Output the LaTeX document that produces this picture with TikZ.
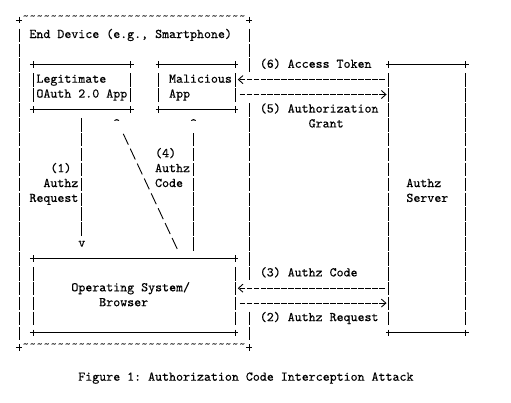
\documentclass[tikz,border=0pt]{standalone}
\usepackage{fontspec}
\newfontfamily\asciifont{lmmono10-regular.otf}[FakeBold=0.3]
\newfontfamily\tildefont{lmmono10-regular.otf}
\usetikzlibrary{arrows.meta}
\newcommand\gtext[4]{\node[glyph] (#1) at ({#2-0.5},{#3+0.21}) {#4};}
\newcommand\asciibox[5]{%
  \node[boxnode, minimum width={(#4-#2)*6.98pt}, minimum height={(#5-#3)*14.9pt}] (#1) at ({(#2+#4)/2},{(#3+#5)/2}) {};
  \draw[edge] ([xshift=-3pt]#1.north west) -- ([xshift=3pt]#1.north east);
  \draw[edge] ([xshift=-3pt]#1.south west) -- ([xshift=3pt]#1.south east);
  \foreach \a in {north west, north east, south west, south east}
    {\draw[edge] ([yshift=3.3pt]#1.\a) -- ([yshift=-3.3pt]#1.\a);}
  \draw[vbar] ([yshift=-8.64pt]#1.north west) -- ([yshift=7.75pt]#1.south west);
  \draw[vbar] ([yshift=-8.64pt]#1.north east) -- ([yshift=7.75pt]#1.south east);
}
\newcommand\tildesrow{\textasciitilde\textasciitilde\textasciitilde\textasciitilde\textasciitilde\textasciitilde\textasciitilde\textasciitilde}
\begin{document}
\begin{tikzpicture}[x=6.98pt, y=-14.9pt,
  glyph/.style={inner sep=0pt, outer sep=0pt, anchor=base west, font=\fontsize{13.3}{14.9}\selectfont\asciifont\frenchspacing},
  tilde/.style={glyph, font=\fontsize{13.3}{14.9}\selectfont\tildefont},
  edge/.style={line width=0.9pt},
  vbar/.style={line width=0.9pt, dash pattern=on 13.5pt off 1.4pt},
  harrow/.style={line width=0.9pt, dash pattern=on 5.6pt off 1.38pt, dash phase=6.29pt,
    -{Straight Barb[length=4.5pt,width=8pt,line width=0.9pt]}},
  diag/.style={line width=0.9pt, dash pattern=on 12pt off 4.45pt, dash phase=14.22pt},
  boxnode/.style={inner sep=0pt, outer sep=0pt, draw=none}]
\fill[white] (-2.722,-1.342) rectangle (70.487,25.705);
\useasboundingbox (-2.722,-1.342) rectangle (70.487,25.705);

% End device outer frame
\node[boxnode, minimum width={33*6.98pt}, minimum height={22*14.9pt}] (enddev) at (16.5,11) {};
\foreach \a in {north west, north east, south west, south east}
  {\draw[edge] ([xshift=-3pt]enddev.\a) -- ([xshift=3pt]enddev.\a);
   \draw[edge] ([yshift=3.3pt]enddev.\a) -- ([yshift=-3.3pt]enddev.\a);}
\node[tilde] (tiltop) at (0.5,0.06) {\tildesrow\tildesrow\tildesrow\tildesrow};
\node[tilde] (tilbot) at (0.5,22.06) {\tildesrow\tildesrow\tildesrow\tildesrow};
\draw[vbar] ([yshift=-8.64pt]enddev.north west) -- ([yshift=7.75pt]enddev.south west);
\draw[vbar] ([yshift=-8.64pt]enddev.north east) -- ([yshift=-51.85pt]enddev.north east);
\draw[vbar] ([yshift=-83.14pt]enddev.north east) -- ([yshift=-260.45pt]enddev.north east);
\draw[vbar] ([yshift=-291.74pt]enddev.north east) -- ([yshift=7.75pt]enddev.south east);

% boxes
\asciibox{legit}{2}{3}{16}{6}
\asciibox{mal}{20}{3}{31}{6}
\asciibox{os}{2}{16}{31}{21}
\asciibox{server}{53}{3}{64}{21}

% texts
\gtext{devlabel}{2}{1}{End Device (e.g., Smartphone)}
\gtext{legit1}{3}{4}{Legitimate}
\gtext{legit2}{3}{5}{OAuth 2.0 App}
\gtext{mal1}{22}{4}{Malicious}
\gtext{mal2}{22}{5}{App}
\gtext{os1}{8}{18}{Operating System/}
\gtext{os2}{12}{19}{Browser}
\gtext{srv1}{56}{11}{Authz}
\gtext{srv2}{56}{12}{Server}
\gtext{l6}{35}{3}{(6) Access Token}
\gtext{l5a}{35}{6}{(5) Authorization}
\gtext{l5b}{42}{7}{Grant}
\gtext{l3}{35}{17}{(3) Authz Code}
\gtext{l2}{35}{20}{(2) Authz Request}
\gtext{l1a}{5}{10}{(1)}
\gtext{l1b}{4}{11}{Authz}
\gtext{l1c}{2}{12}{Request}
\gtext{l4a}{20}{9}{(4)}
\gtext{l4b}{20}{10}{Authz}
\gtext{l4c}{20}{11}{Code}
\gtext{caption}{9}{24}{Figure 1: Authorization Code Interception Attack}

% horizontal connectors
\coordinate (malr4) at ([yshift=-14.9pt]mal.north east);
\coordinate (malr5) at ([yshift=-29.8pt]mal.north east);
\coordinate (osr18) at ([yshift=-29.8pt]os.north east);
\coordinate (osr19) at ([yshift=-44.7pt]os.north east);
\draw[harrow, shorten <=3.49pt, shorten >=2.4pt] (server.west |- malr4) -- (malr4);
\draw[harrow, shorten <=3.49pt, shorten >=2.4pt] (malr5) -- (server.west |- malr5);
\draw[harrow, shorten <=3.49pt, shorten >=2.4pt] (server.west |- osr18) -- (osr18);
\draw[harrow, shorten <=3.49pt, shorten >=2.4pt] (osr19) -- (server.west |- osr19);

% vertical connectors
\gtext{tip1}{9}{15}{v}
\gtext{tip4}{25}{7}{\textasciicircum}
\gtext{tip0}{14}{7}{\textasciicircum}
\draw[vbar, shorten <=8.64pt, shorten >=5.2pt] (legit.south -| tip1.north) -- (tip1.north);
\draw[vbar, shorten <=7.75pt, shorten >=5.5pt] (os.north -| tip4.south) -- (tip4.south);
\coordinate (dstart) at (22.8,15.5);
\coordinate (dend) at (14.8,7.5);
\draw[diag] (dstart) -- (dend);
\end{tikzpicture}
\end{document}
